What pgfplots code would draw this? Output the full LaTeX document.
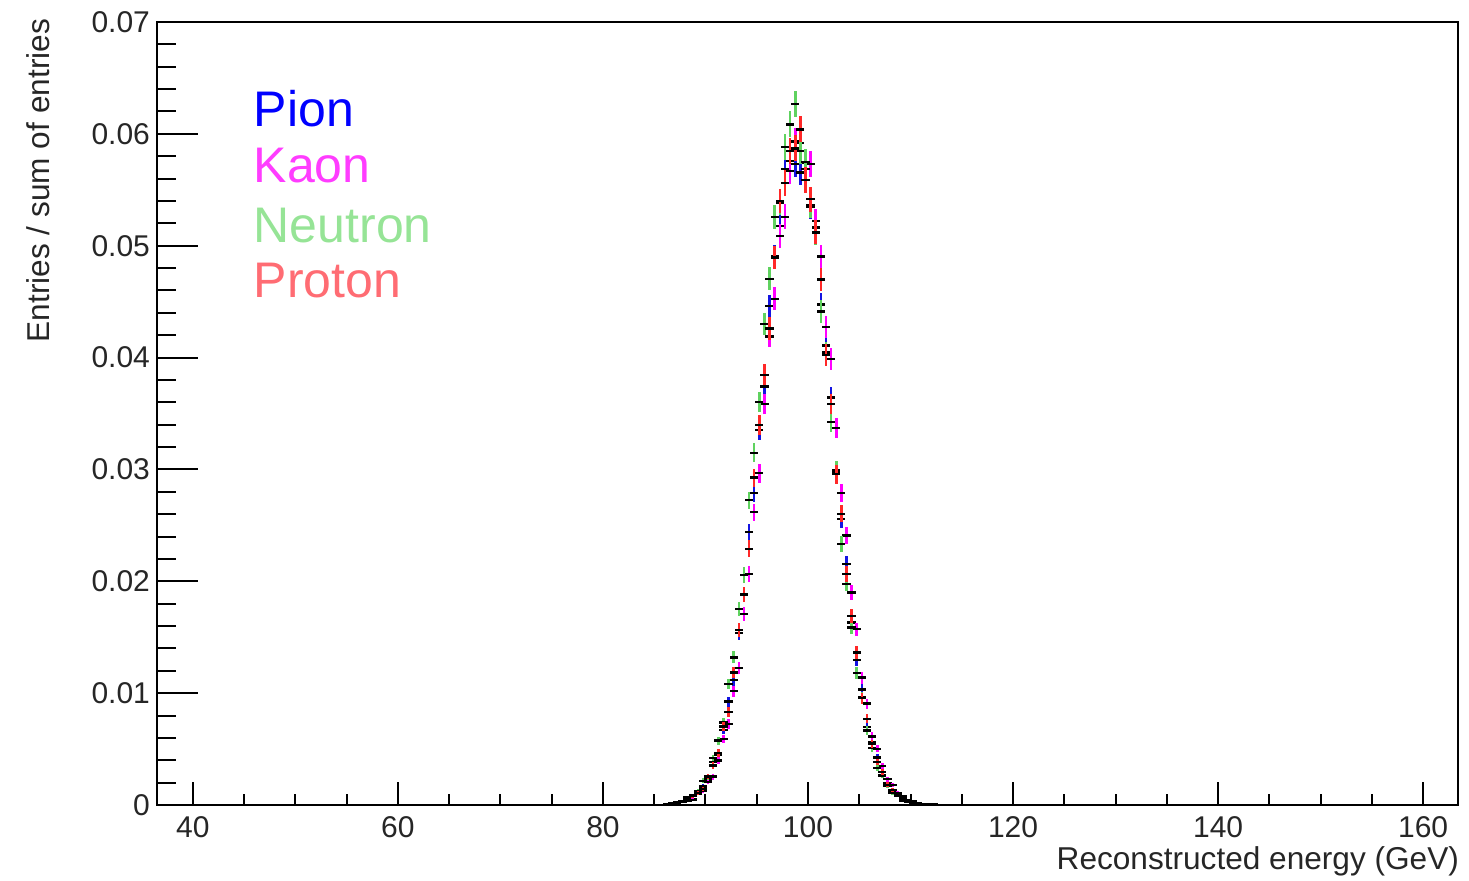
\documentclass[border=0pt]{standalone}
\usepackage{fontspec}
\setmainfont{Liberation Sans}
\usepackage{pgfplots}
\usepackage{pgfplotstable}
\pgfplotsset{compat=1.18}

\definecolor{pion}{RGB}{20,20,225}
\definecolor{kaon}{RGB}{255,0,255}
\definecolor{neutron}{RGB}{95,210,95}
\definecolor{proton}{RGB}{255,40,40}
\definecolor{pionleg}{RGB}{0,0,255}
\definecolor{kaonleg}{RGB}{255,60,255}
\definecolor{neutronleg}{RGB}{150,228,150}
\definecolor{protonleg}{RGB}{255,108,115}

\pgfplotsset{
  vbar/.style={draw=none, mark=none, forget plot,
    error bars/.cd, y dir=both, y explicit, error mark=none,
    error bar style={line width=1.3pt, draw=#1}},
  hbar/.style={draw=none, mark=none, forget plot,
    error bars/.cd, x dir=both, x fixed=0.4, error mark=none,
    error bar style={line width=1.2pt, draw=black}},
}

% bin centre, entries / sum of entries, stat. error
\pgfplotstableread{
x y e
86.25 0.00007 0.000037
86.75 0.00006 0.000048
87.25 0.00025 0.000064
87.75 0.00026 0.00008
88.25 0.00051 0.000102
88.75 0.00054 0.000128
89.25 0.00123 0.000158
89.75 0.00165 0.000194
90.25 0.00228 0.000235
90.75 0.00383 0.000282
91.25 0.00453 0.000334
91.75 0.00671 0.000391
92.25 0.00924 0.000453
92.75 0.01117 0.00052
93.25 0.01536 0.00059
93.75 0.01886 0.000663
94.25 0.02438 0.000736
94.75 0.02788 0.000809
95.25 0.03351 0.000879
95.75 0.03742 0.000945
96.25 0.04462 0.001005
96.75 0.04904 0.001057
97.25 0.05178 0.0011
97.75 0.05684 0.001133
98.25 0.05757 0.001154
98.75 0.05730 0.001163
99.25 0.05655 0.00116
99.75 0.05737 0.001143
100.25 0.05348 0.001115
100.75 0.05162 0.001076
101.25 0.04473 0.001027
101.75 0.04109 0.00097
102.25 0.03642 0.000906
102.75 0.02974 0.000837
103.25 0.02556 0.000765
103.75 0.02154 0.000692
104.25 0.01632 0.000619
104.75 0.01298 0.000548
105.25 0.01032 0.00048
105.75 0.00699 0.000415
106.25 0.00563 0.000356
106.75 0.00424 0.000301
107.25 0.00263 0.000253
107.75 0.00195 0.00021
108.25 0.00124 0.000172
108.75 0.00096 0.00014
109.25 0.00045 0.000113
109.75 0.00040 0.00009
110.25 0.00022 0.00007
110.75 0.00011 0.000055
111.25 0.00011 0.000043
111.75 0.00004 0.000034
112.25 0.00004 0.000026
}\pion

\pgfplotstableread{
x y e
86.25 0.00004 0.000034
86.75 0.00012 0.000043
87.25 0.00007 0.000055
87.75 0.00025 0.00007
88.25 0.00037 0.00009
88.75 0.00047 0.000113
89.25 0.00103 0.00014
89.75 0.00124 0.000172
90.25 0.00208 0.00021
90.75 0.00253 0.000253
91.25 0.00397 0.000301
91.75 0.00592 0.000356
92.25 0.00724 0.000415
92.75 0.01017 0.00048
93.25 0.01226 0.000548
93.75 0.01706 0.000619
94.25 0.02064 0.000692
94.75 0.02618 0.000765
95.25 0.02966 0.000837
95.75 0.03587 0.000906
96.25 0.04187 0.00097
96.75 0.04525 0.001027
97.25 0.05087 0.001076
97.75 0.05259 0.001115
98.25 0.05668 0.001143
98.75 0.05933 0.00116
99.25 0.05917 0.001163
99.75 0.05688 0.001154
100.25 0.05730 0.001133
100.75 0.05222 0.0011
101.25 0.04904 0.001057
101.75 0.04271 0.001005
102.25 0.03987 0.000945
102.75 0.03369 0.000879
103.25 0.02788 0.000809
103.75 0.02409 0.000736
104.25 0.01899 0.000663
104.75 0.01571 0.00059
105.25 0.01138 0.00052
105.75 0.00906 0.000453
106.25 0.00612 0.000391
106.75 0.00503 0.000334
107.25 0.00347 0.000282
107.75 0.00231 0.000235
108.25 0.00180 0.000194
108.75 0.00106 0.000158
109.25 0.00077 0.000128
109.75 0.00037 0.000102
110.25 0.00030 0.00008
110.75 0.00018 0.000064
111.25 0.00010 0.00005
111.75 0.00007 0.000037
112.25 0.00004 0.00003
}\kaon

\pgfplotstableread{
x y e
86.25 0.00011 0.000043
86.75 0.00012 0.000055
87.25 0.00024 0.00007
87.75 0.00027 0.00009
88.25 0.00070 0.000113
88.75 0.00088 0.00014
89.25 0.00123 0.000172
89.75 0.00216 0.00021
90.25 0.00253 0.000253
90.75 0.00421 0.000301
91.25 0.00576 0.000356
91.75 0.00738 0.000415
92.25 0.01081 0.00048
92.75 0.01320 0.000548
93.25 0.01750 0.000619
93.75 0.02057 0.000692
94.25 0.02724 0.000765
94.75 0.03149 0.000837
95.25 0.03604 0.000906
95.75 0.04299 0.00097
96.25 0.04703 0.001027
96.75 0.05259 0.001076
97.25 0.05388 0.001115
97.75 0.05884 0.001143
98.25 0.06085 0.00116
98.75 0.06268 0.001163
99.25 0.05849 0.001154
99.75 0.05749 0.001133
100.25 0.05358 0.0011
100.75 0.05113 0.001057
101.25 0.04413 0.001005
101.75 0.04047 0.000945
102.25 0.03426 0.000879
102.75 0.02995 0.000809
103.25 0.02332 0.000736
103.75 0.01976 0.000663
104.25 0.01587 0.00059
104.75 0.01178 0.00052
105.25 0.00964 0.000453
105.75 0.00667 0.000391
106.25 0.00507 0.000334
106.75 0.00329 0.000282
107.25 0.00263 0.000235
107.75 0.00168 0.000194
108.25 0.00109 0.000158
108.75 0.00081 0.000128
109.25 0.00041 0.000102
109.75 0.00030 0.00008
110.25 0.00022 0.000064
110.75 0.00011 0.00005
111.25 0.00007 0.000037
111.75 0.00004 0.00003
112.25 0.00002 0.000025
}\neutron

\pgfplotstableread{
x y e
86.25 0.00004 0.000037
86.75 0.00012 0.000048
87.25 0.00019 0.000064
87.75 0.00034 0.00008
88.25 0.00036 0.000102
88.75 0.00079 0.000128
89.25 0.00106 0.000158
89.75 0.00142 0.000194
90.25 0.00256 0.000235
90.75 0.00352 0.000282
91.25 0.00466 0.000334
91.75 0.00702 0.000391
92.25 0.00833 0.000453
92.75 0.01184 0.00052
93.25 0.01565 0.00059
93.75 0.01880 0.000663
94.25 0.02291 0.000736
94.75 0.02926 0.000809
95.25 0.03395 0.000879
95.75 0.03846 0.000945
96.25 0.04261 0.001005
96.75 0.04893 0.001057
97.25 0.05398 0.0011
97.75 0.05560 0.001133
98.25 0.05849 0.001154
98.75 0.05870 0.001163
99.25 0.06040 0.00116
99.75 0.05588 0.001143
100.25 0.05415 0.001115
100.75 0.05119 0.001076
101.25 0.04699 0.001027
101.75 0.04022 0.00097
102.25 0.03587 0.000906
102.75 0.02957 0.000837
103.25 0.02602 0.000765
103.75 0.02064 0.000692
104.25 0.01688 0.000619
104.75 0.01363 0.000548
105.25 0.00955 0.00048
105.75 0.00770 0.000415
106.25 0.00549 0.000356
106.75 0.00385 0.000301
107.25 0.00296 0.000253
107.75 0.00181 0.00021
108.25 0.00132 0.000172
108.75 0.00093 0.00014
109.25 0.00054 0.000113
109.75 0.00039 0.00009
110.25 0.00018 0.00007
110.75 0.00015 0.000055
111.25 0.00008 0.000043
111.75 0.00004 0.000034
112.25 0.00003 0.000026
}\proton

\begin{document}
\begin{tikzpicture}
% y ticks (longer, as ROOT draws them)
\begin{axis}[
  scale only axis, width=650.5pt, height=391.5pt,
  xmin=36.5, xmax=163.4, ymin=0, ymax=0.07,
  xtick=\empty,
  ytick={0,0.01,0.02,0.03,0.04,0.05,0.06,0.07},
  yticklabels={0,0.01,0.02,0.03,0.04,0.05,0.06,0.07},
  minor y tick num=4,
  tick pos=left, tick align=inside,
  major tick length=20.5pt, minor tick length=9.5pt,
  tick style={line width=1pt, black},
  axis line style={line width=1pt},
  yticklabel style={font=\fontsize{15}{18}\selectfont, text=black!85},
  ylabel={Entries / sum of entries},
  ylabel style={at={([xshift=-53.5pt,yshift=5pt]rel axis cs:0,1)}, anchor=base east,
    font=\fontsize{15.8}{19}\selectfont, text=black!85},
]
\end{axis}
\begin{axis}[
  name=main,
  scale only axis, width=650.5pt, height=391.5pt,
  xmin=36.5, xmax=163.4, ymin=0, ymax=0.07,
  xtick={40,60,80,100,120,140,160},
  minor x tick num=3,
  ytick=\empty,
  tick pos=left, tick align=inside,
  major tick length=11.5pt, minor tick length=5.5pt,
  tick style={line width=1pt, black},
  axis line style={line width=1pt},
  /pgf/number format/assume math mode=true,
  xticklabel style={font=\fontsize{15}{18}\selectfont, text=black!85, yshift=-2pt},
  xlabel={Reconstructed energy (GeV)},
  xlabel style={at={([xshift=4pt,yshift=-32.5pt]rel axis cs:1,0)}, anchor=base east,
    font=\fontsize{15.8}{19}\selectfont, text=black!85},
]
\addplot[vbar=pion] table[x=x, y=y, y error=e] {\pion};
\addplot[hbar] table[x=x, y=y] {\pion};
\addplot[vbar=kaon] table[x=x, y=y, y error=e] {\kaon};
\addplot[hbar] table[x=x, y=y] {\kaon};
\addplot[vbar=neutron] table[x=x, y=y, y error=e] {\neutron};
\addplot[hbar] table[x=x, y=y] {\neutron};
\addplot[vbar=proton] table[x=x, y=y, y error=e] {\proton};
\addplot[hbar] table[x=x, y=y] {\proton};

\node[anchor=base west, text=pionleg, font=\fontsize{25}{30}\selectfont] at (rel axis cs:0.069,0.8659) {Pion};
\node[anchor=base west, text=kaonleg, font=\fontsize{25}{30}\selectfont] at (rel axis cs:0.069,0.7944) {Kaon};
\node[anchor=base west, text=neutronleg, font=\fontsize{25}{30}\selectfont] at (rel axis cs:0.069,0.7190) {Neutron};
\node[anchor=base west, text=protonleg, font=\fontsize{25}{30}\selectfont] at (rel axis cs:0.069,0.6475) {Proton};
\end{axis}
\pgfresetboundingbox
\useasboundingbox ([xshift=-78.5pt,yshift=-38pt]main.south west) rectangle ([xshift=5.5pt,yshift=11pt]main.north east);
\end{tikzpicture}
\end{document}
